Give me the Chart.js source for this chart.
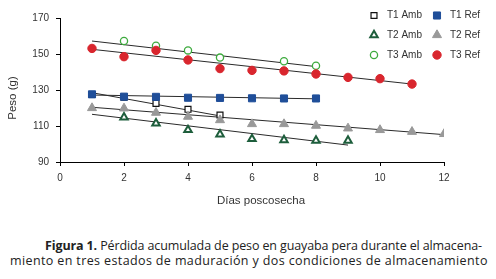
<!DOCTYPE html>
<html>
<head>
<meta charset="utf-8">
<script src="https://cdn.jsdelivr.net/npm/chart.js@4"></script>
<style>
  body { margin: 0; background: #fff; }
  #wrap { position: relative; width: 496px; height: 279px; }
  #box { position: absolute; left: 0; top: 0; width: 496px; height: 215px; }
  .cap { position: absolute; font-family: "Open Sans", sans-serif; font-size: 12.5px; color: #222; white-space: nowrap; }
</style>
</head>
<body>
<div id="wrap">
  <div id="box"><canvas id="grafico"></canvas></div>
  <div class="cap" id="l1" style="left:45px; top:237px; letter-spacing:-0.12px;"><b>Figura 1.</b> Pérdida acumulada de peso en guayaba pera durante el almacena-</div>
  <div class="cap" id="l2" style="left:10px; top:252px; letter-spacing:0.38px;">miento en tres estados de maduración y dos condiciones de almacenamiento</div>
</div>
<script>
// dias poscosecha
const diasT1Amb = [1, 2, 3, 4, 5];
const pesoT1Amb = [127.5, 126, 122.6, 119.3, 116.1];
const diasT1Ref = [1, 2, 3, 4, 5, 6, 7, 8];
const pesoT1Ref = [127.6, 126.3, 126.2, 125.7, 125.6, 125.4, 125.3, 125.3];
const diasT2Amb = [2, 3, 4, 5, 6, 7, 8, 9];
const pesoT2Amb = [114.8, 111.5, 107.8, 105.4, 102.8, 102.2, 101.9, 101.9];
const diasT2Ref = [1, 2, 3, 4, 5, 6, 7, 8, 9, 10, 11, 12];
const pesoT2Ref = [120, 119.8, 117.4, 115.2, 113.3, 111.1, 111.1, 110.2, 108.7, 107.8, 106.8, 105.6];
const diasT3Amb = [2, 3, 4, 5, 7, 8];
const pesoT3Amb = [157.2, 154.6, 152, 148, 146, 143.5];
const diasT3Ref = [1, 2, 3, 4, 5, 6, 7, 8, 9, 10, 11];
const pesoT3Ref = [153.1, 148.5, 152, 146.7, 141.9, 140.9, 140.6, 138.9, 137, 136.3, 133.3];

// lineas de tendencia (inicio y fin)
const tendX = { t1a: [1, 5], t1r: [1, 8], t2a: [1, 9], t2r: [1, 12], t3a: [1, 8], t3r: [1, 11] };
const tendY = { t1a: [128.5, 115.6], t1r: [127.2, 125.1], t2a: [116.5, 99.4], t2r: [120.4, 105.2], t3a: [157.2, 143], t3r: [152.6, 133.3] };

const ticksY = [90, 110, 130, 150, 170];
const ticksX = [0, 2, 4, 6, 8, 10, 12];

const pts = (xs, ys) => xs.map((x, i) => ({ x: x, y: ys[i] }));

const series = [
    { label: 'T1 Amb', data: pts(diasT1Amb, pesoT1Amb), pointStyle: 'rect', pointRadius: 4.2, backgroundColor: '#fff', borderColor: '#111', pointBorderWidth: 1.2, order: 3 },
    { label: 'T1 Ref', data: pts(diasT1Ref, pesoT1Ref), pointStyle: 'rect', pointRadius: 5, backgroundColor: '#1F4E99', borderColor: '#1F4E99', pointBorderWidth: 1, order: 1 },
    { label: 'T2 Amb', data: pts(diasT2Amb, pesoT2Amb), pointStyle: 'triangle', pointRadius: 4.3, backgroundColor: '#fff', borderColor: '#1E5E3C', pointBorderWidth: 2, order: 2 },
    { label: 'T2 Ref', data: pts(diasT2Ref, pesoT2Ref), pointStyle: 'triangle', pointRadius: 5.2, backgroundColor: '#999', borderColor: '#999', pointBorderWidth: 1, order: 2 },
    { label: 'T3 Amb', data: pts(diasT3Amb, pesoT3Amb), pointStyle: 'circle', pointRadius: 3.6, backgroundColor: '#fff', borderColor: '#3DAA3D', pointBorderWidth: 1.3, order: 3 },
    { label: 'T3 Ref', data: pts(diasT3Ref, pesoT3Ref), pointStyle: 'circle', pointRadius: 4.2, backgroundColor: '#D9262E', borderColor: '#D9262E', pointBorderWidth: 1, order: 1 }
];

const datasets = series.map(s => Object.assign({ showLine: false, pointHoverRadius: s.pointRadius }, s));
Object.keys(tendX).forEach(k => {
    datasets.push({
        label: 'tend ' + k,
        data: pts(tendX[k], tendY[k]),
        showLine: true,
        borderColor: '#2a2a2a',
        borderWidth: 1,
        pointRadius: 0,
        order: 10
    });
});

// leyenda en dos columnas y textos de los ejes
const extras = {
    id: 'extras',
    afterDraw(chart) {
        const ctx = chart.ctx;
        ctx.save();
        const colX = [374, 437];
        const rowY = [15.5, 35, 55];
        ctx.font = '10px "Liberation Sans", Arial, sans-serif';
        ctx.textBaseline = 'middle';
        series.forEach((s, i) => {
            const x = colX[i % 2];
            const y = rowY[Math.floor(i / 2)];
            ctx.fillStyle = s.backgroundColor;
            ctx.strokeStyle = s.borderColor;
            ctx.lineWidth = s.pointBorderWidth;
            Chart.helpers.drawPoint(ctx, { pointStyle: s.pointStyle, radius: s.pointRadius, rotation: 0, borderWidth: s.pointBorderWidth }, x, y);
            ctx.fillStyle = '#333';
            ctx.textAlign = 'left';
            ctx.fillText(s.label, x + 13, y);
        });

        ctx.font = '11.5px "Liberation Sans", Arial, sans-serif';
        ctx.fillStyle = '#333';
        ctx.textAlign = 'center';
        ctx.fillText('Días poscosecha', 261, 201);
        ctx.translate(13, 98);
        ctx.rotate(-Math.PI / 2);
        ctx.fillText('Peso (g)', 0, 0);
        ctx.restore();
    }
};

new Chart(document.getElementById('grafico'), {
    type: 'scatter',
    data: { datasets },
    options: {
        responsive: true,
        maintainAspectRatio: false,
        animation: false,
        layout: { padding: { left: 0, right: 52, top: 18, bottom: 0 } },
        plugins: { legend: { display: false }, tooltip: { enabled: false } },
        scales: {
            x: {
                type: 'linear',
                min: 0,
                max: 12,
                afterFit(scale) { scale.height = 53; },
                afterBuildTicks(scale) { scale.ticks = ticksX.map(v => ({ value: v })); },
                ticks: { font: { family: 'Liberation Sans', size: 10 }, color: '#333', padding: 6, maxRotation: 0 },
                grid: { drawOnChartArea: false, drawTicks: true, tickLength: 4, color: '#000' },
                border: { color: '#000', width: 1 }
            },
            y: {
                min: 90,
                max: 170,
                afterFit(scale) { scale.width = 60; },
                afterBuildTicks(scale) { scale.ticks = ticksY.map(v => ({ value: v })); },
                ticks: { font: { family: 'Liberation Sans', size: 10 }, color: '#333', padding: 7 },
                grid: { drawOnChartArea: false, drawTicks: true, tickLength: 4, color: '#000' },
                border: { color: '#000', width: 1 }
            }
        }
    },
    plugins: [extras]
});
</script>
</body>
</html>
